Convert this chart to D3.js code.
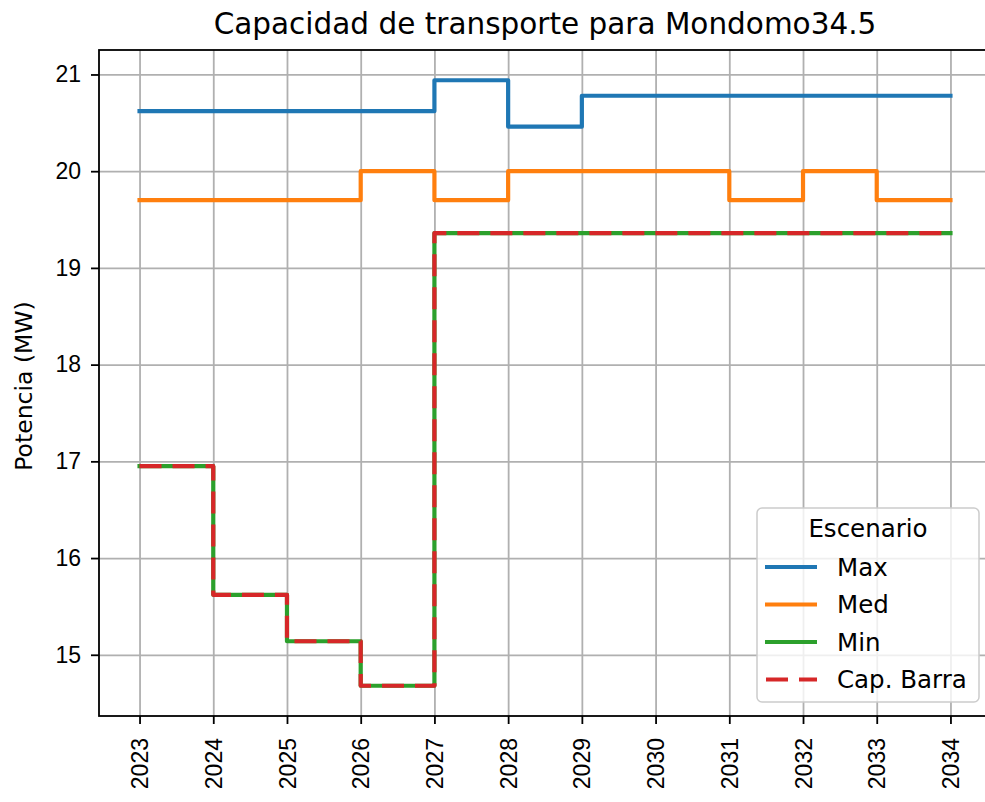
<!DOCTYPE html>
<html>
<head>
<meta charset="utf-8">
<script src="https://cdn.jsdelivr.net/npm/d3@7"></script>
<style>
    body { margin: 0; background: #fff; }
    svg { font-family: "DejaVu Sans", sans-serif; }
    .grid line { stroke: #b0b0b0; stroke-width: 1.8px; }
    .grid path { display: none; }
</style>
</head>
<body>
<div id="chart"></div>
<script>
// data
var years = [2023, 2024, 2025, 2026, 2027, 2028, 2029, 2030, 2031, 2032, 2033, 2034]
var maxVals = [20.62, 20.62, 20.62, 20.62, 20.94, 20.46, 20.78, 20.78, 20.78, 20.78, 20.78, 20.78]
var medVals = [19.70, 19.70, 19.70, 20.00, 19.70, 20.00, 20.00, 20.00, 19.70, 20.00, 19.70, 19.70]
var minVals = [16.95, 15.62, 15.14, 14.68, 19.36, 19.36, 19.36, 19.36, 19.36, 19.36, 19.36, 19.36]
var capVals = [16.95, 15.62, 15.14, 14.68, 19.36, 19.36, 19.36, 19.36, 19.36, 19.36, 19.36, 19.36]
var yTicks = [15, 16, 17, 18, 19, 20, 21]
var seriesNames = ['Max', 'Med', 'Min', 'Cap. Barra']
var seriesColors = ['#1f77b4', '#ff7f0e', '#2ca02c', '#d62728']

var series = [maxVals, medVals, minVals, capVals].map(function (vals, i) {
    return { name: seriesNames[i], color: seriesColors[i], dashed: i == 3,
             values: vals.map(function (v, j) { return { year: years[j], value: v } }) }
})

// set the dimensions and margins of the graph
var margin = { top: 50, right: 0, bottom: 86, left: 99 },
    width = 892,
    height = 666;

var svg = d3.select("#chart")
    .append("svg")
    .attr("width", 985)
    .attr("height", 802)
    .append("g")
    .attr("transform", "translate(" + margin.left + "," + margin.top + ")");

// scales with matplotlib-like 5% margins
var xPad = (d3.max(years) - d3.min(years)) * 0.05
var x = d3.scaleLinear()
    .domain([d3.min(years) - xPad, d3.max(years) + xPad])
    .range([0, width]);

var allVals = maxVals.concat(medVals, minVals, capVals)
var yMin = d3.min(allVals), yMax = d3.max(allVals)
var yPad = (yMax - yMin) * 0.05
var y = d3.scaleLinear()
    .domain([yMin - yPad, yMax + yPad])
    .range([height, 0]);

// grids
svg.append('g')
    .attr('class', 'grid')
    .attr('transform', 'translate(0,' + height + ')')
    .call(d3.axisTop(x).tickValues(years).tickSize(height).tickFormat(''));

svg.append('g')
    .attr('class', 'grid')
    .call(d3.axisRight(y).tickValues(yTicks).tickSize(width).tickFormat(''));

// lines
var line = d3.line()
    .curve(d3.curveStepAfter)
    .x(function (d) { return x(d.year) })
    .y(function (d) { return y(d.value) })

svg.selectAll('.series')
    .data(series)
    .enter()
    .append('path')
    .attr('class', 'series')
    .attr('d', function (d) { return line(d.values) })
    .attr('fill', 'none')
    .attr('stroke', function (d) { return d.color })
    .attr('stroke-width', 4.2)
    .attr('stroke-linejoin', 'round')
    .attr('stroke-linecap', function (d) { return d.dashed ? 'butt' : 'square' })
    .attr('stroke-dasharray', function (d) { return d.dashed ? '22,11' : null })

// axes
var xAxis = svg.append("g")
    .attr("transform", "translate(0," + height + ")")
    .call(d3.axisBottom(x).tickValues(years).tickFormat(d3.format('d')).tickSizeOuter(0).tickSize(8));
xAxis.selectAll('text')
    .attr('transform', 'rotate(-90)')
    .attr('text-anchor', 'end')
    .attr('x', -22)
    .attr('y', 0)
    .attr('dy', '0.35em')
    .style('font-size', '23px')
    .style('fill', '#000');

var yAxis = svg.append("g")
    .call(d3.axisLeft(y).tickValues(yTicks).tickFormat(d3.format('d')).tickSizeOuter(0).tickSize(8).tickPadding(10));
yAxis.selectAll('text')
    .style('font-size', '23px')
    .style('fill', '#000');

svg.selectAll('.tick line').attr('stroke', '#000').attr('stroke-width', 1.8)
svg.selectAll('.domain').remove()

// frame
svg.append('rect')
    .attr('width', width)
    .attr('height', height)
    .attr('fill', 'none')
    .attr('stroke', '#000')
    .attr('stroke-width', 1.8)

// title and label
svg.append("text")
    .attr("x", width / 2)
    .attr("y", -16)
    .attr("text-anchor", "middle")
    .style("font-size", "29.5px")
    .text("Capacidad de transporte para Mondomo34.5");

svg.append("text")
    .attr("text-anchor", "middle")
    .attr("transform", "translate(" + (-67) + "," + (height / 2 + 3) + ") rotate(-90)")
    .style("font-size", "23.5px")
    .text("Potencia (MW)");

// legend
var legend = svg.append('g')
    .attr('transform', 'translate(' + (757 - margin.left) + ',' + (508 - margin.top) + ')')

legend.append('rect')
    .attr('width', 222)
    .attr('height', 194)
    .attr('rx', 5)
    .attr('fill', '#fff')
    .attr('fill-opacity', 0.8)
    .attr('stroke', '#cccccc')
    .attr('stroke-width', 1.5)

legend.append('text')
    .attr('x', 111)
    .attr('y', 29)
    .attr('text-anchor', 'middle')
    .style('font-size', '24.5px')
    .text('Escenario')

var items = legend.selectAll('.item')
    .data(series)
    .enter()
    .append('g')
    .attr('class', 'item')
    .attr('transform', function (d, i) { return 'translate(0,' + (59 + i * 37.5) + ')' })

items.append('line')
    .attr('x1', function (d) { return d.dashed ? 9 : 8 })
    .attr('x2', 60)
    .attr('stroke', function (d) { return d.color })
    .attr('stroke-width', 4.2)
    .attr('stroke-dasharray', function (d) { return d.dashed ? '22,11' : null })

items.append('text')
    .attr('x', 80)
    .attr('y', 8.5)
    .style('font-size', '24.5px')
    .text(function (d) { return d.name })
</script>
</body>
</html>
